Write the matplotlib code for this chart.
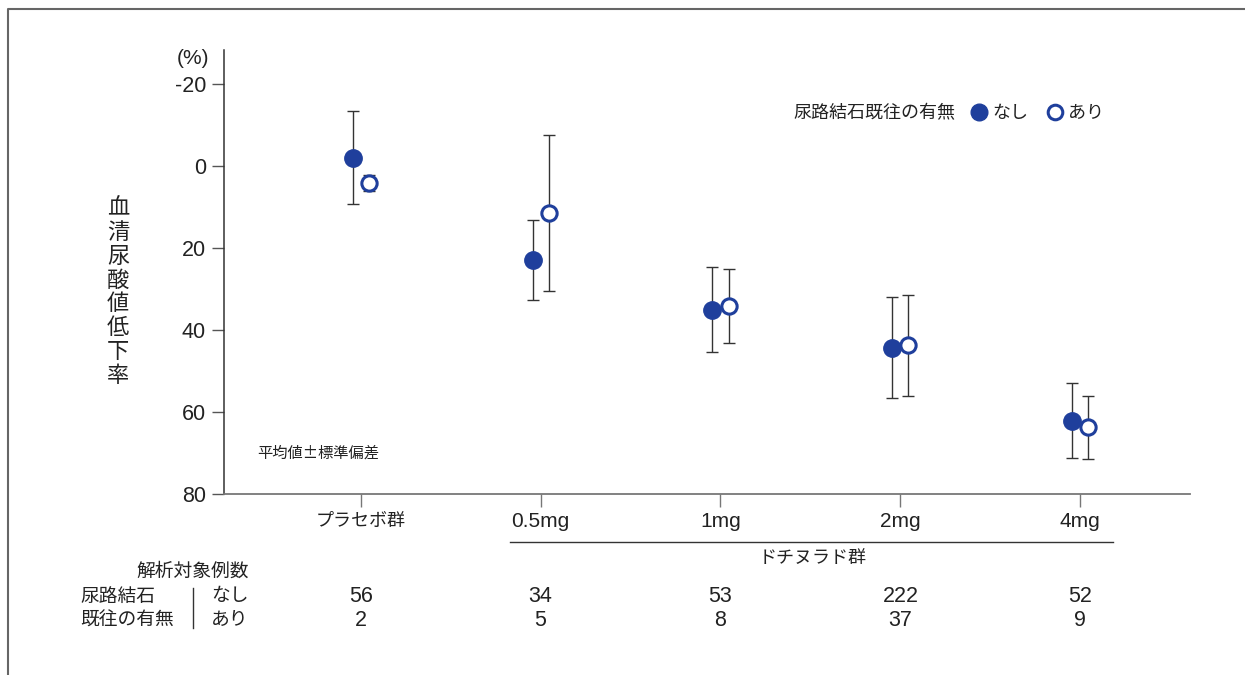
import matplotlib
matplotlib.use("Agg")
import matplotlib.pyplot as plt
import matplotlib.transforms as mtransforms
from matplotlib.lines import Line2D
import numpy as np

plt.rcParams['font.family'] = ['Liberation Sans', 'Noto Sans CJK JP', 'DejaVu Sans']
plt.rcParams['axes.unicode_minus'] = False
JP = ['Noto Sans CJK JP', 'DejaVu Sans']

categories = ['プラセボ群', '0.5mg', '1mg', '2mg', '4mg']
mean_none = [-2.0, 22.9, 35.0, 44.3, 62.1]
sd_none = [11.3, 9.8, 10.3, 12.3, 9.2]
mean_yes = [4.1, 11.5, 34.1, 43.7, 63.7]
sd_yes = [2.0, 19.0, 9.0, 12.3, 7.7]
n_none = [56, 34, 53, 222, 52]
n_yes = [2, 5, 8, 37, 9]
yticks = [-20, 0, 20, 40, 60, 80]

BLUE = '#1f3f9c'
TXT = '#222222'

fig = plt.figure(figsize=(12.45, 6.75), dpi=100)
ax = fig.add_axes([224 / 1245, 1 - 494 / 675, 966 / 1245, 444 / 675])

x = np.arange(len(categories))
off = 0.045

ax.errorbar(x - off, mean_none, yerr=sd_none, fmt='none', ecolor='#333333',
            elinewidth=1.0, capsize=4, capthick=1.0, zorder=2)
ax.errorbar(x + off, mean_yes, yerr=sd_yes, fmt='none', ecolor='#333333',
            elinewidth=1.0, capsize=4, capthick=1.0, zorder=2)
ax.plot(x - off, mean_none, 'o', ms=12.5, color=BLUE, mec=BLUE, ls='none', zorder=3)
ax.plot(x + off, mean_yes, 'o', ms=11, mfc='white', mec=BLUE, mew=2.2, ls='none', zorder=4)

ax.set_ylim(80, -28.3)
ax.set_xlim(-0.76, 4.61)
ax.set_yticks(yticks)
ax.set_yticklabels([str(v) for v in yticks], fontsize=15.5, color=TXT)
ax.set_xticks(x)
ax.set_xticklabels(categories, fontsize=15, color=TXT)
for lbl in ax.get_xticklabels()[:1]:
    lbl.set_family(JP)
    lbl.set_fontsize(13)
ax.tick_params(axis='y', length=9, width=1, color='#555555', pad=4)
ax.tick_params(axis='x', length=9, width=1, color='#777777', pad=4)

for s in ['top', 'right']:
    ax.spines[s].set_visible(False)
ax.spines['left'].set_color('#333333')
ax.spines['bottom'].set_color('#777777')
ax.spines['left'].set_linewidth(1.1)
ax.spines['bottom'].set_linewidth(1.3)

# percent unit and y label
fig.text(193 / 1245, 1 - 58 / 675, '(%)', fontsize=15, ha='center', va='center', color=TXT)
ylabel = '血清尿酸値低下率'
fig.text(118 / 1245, 1 - 292 / 675, '\n'.join(ylabel), fontsize=16, ha='center',
         va='center', linespacing=1.05, color=TXT, family=JP)

# legend
fig.text(955 / 1245, 1 - 113 / 675, '尿路結石既往の有無', fontsize=13, ha='right',
         va='center', color=TXT, family=JP)
handles = [Line2D([], [], marker='o', ls='none', ms=12, color=BLUE),
           Line2D([], [], marker='o', ls='none', ms=10.5, mfc='white', mec=BLUE, mew=2.2)]
leg = fig.legend(handles, ['なし', 'あり'], loc='center left',
                 bbox_to_anchor=(971 / 1245, 1 - 113 / 675), ncol=2, frameon=False,
                 prop={'family': JP, 'size': 13}, handlelength=0.9, handletextpad=0.3,
                 columnspacing=1.0, borderaxespad=0, borderpad=0)
for t in leg.get_texts():
    t.set_color(TXT)

ax.text((257 - 224) / 966, (494 - 453) / 444, '平均値±標準偏差', transform=ax.transAxes,
        fontsize=11, ha='left', va='center', color=TXT, family=JP)

# dotinurad group bracket
tr = mtransforms.blended_transform_factory(ax.transData, fig.transFigure)
fig.add_artist(Line2D([0.828, 4.18], [1 - 542 / 675] * 2, transform=tr,
                     color='#333333', lw=1.0))
fig.text(2.51, 1 - 558 / 675, 'ドチヌラド群', transform=tr, fontsize=13,
         ha='center', va='center', color=TXT, family=JP)

# analysis counts table
fig.text(193 / 1245, 1 - 571 / 675, '解析対象例数', fontsize=13.5, ha='center',
         va='center', color=TXT, family=JP)
fig.text(80 / 1245, 1 - 596 / 675, '尿路結石', fontsize=13.5, ha='left', va='center',
         color=TXT, family=JP)
fig.text(80 / 1245, 1 - 620 / 675, '既往の有無', fontsize=13.5, ha='left', va='center',
         color=TXT, family=JP)
fig.add_artist(Line2D([193 / 1245] * 2, [1 - 588 / 675, 1 - 628 / 675],
                      transform=fig.transFigure, color='#333333', lw=1.0))
fig.text(230 / 1245, 1 - 596 / 675, 'なし', fontsize=13.5, ha='center', va='center',
         color=TXT, family=JP)
fig.text(230 / 1245, 1 - 620 / 675, 'あり', fontsize=13.5, ha='center', va='center',
         color=TXT, family=JP)
for xi, a, b in zip(x, n_none, n_yes):
    fig.text(xi, 1 - 596 / 675, str(a), transform=tr, fontsize=15.5, ha='center',
             va='center', color=TXT)
    fig.text(xi, 1 - 620 / 675, str(b), transform=tr, fontsize=15.5, ha='center',
             va='center', color=TXT)

# outer frame (top and left only)
fig.add_artist(Line2D([8 / 1245, 8 / 1245, 1.0], [0.0, 1 - 9 / 675, 1 - 9 / 675],
                      transform=fig.transFigure, color='#666666', lw=1.5))

fig.savefig('out.png', dpi=100)
